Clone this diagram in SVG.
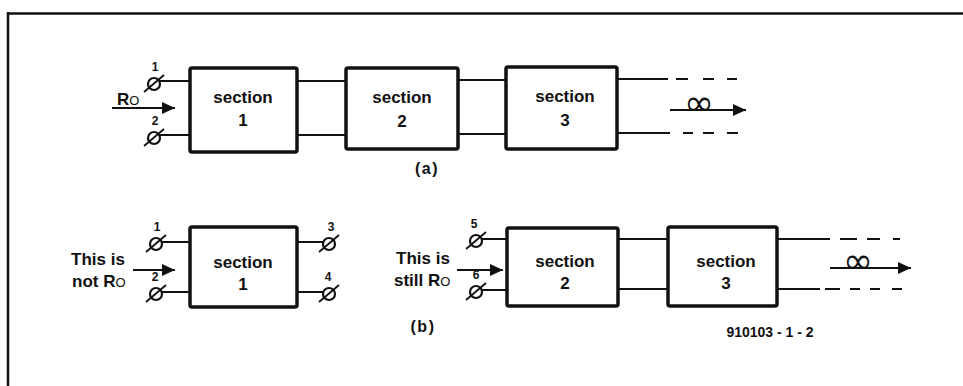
<svg xmlns="http://www.w3.org/2000/svg" width="963" height="386" viewBox="0 0 963 386">
<style>
.box{fill:#fff;stroke:#111;stroke-width:3.5;}
.w{stroke:#111;stroke-width:2;fill:none;}
.t{font-family:"Liberation Sans",Arial,sans-serif;font-weight:bold;fill:#111;}
.sec{font-size:17px;text-anchor:middle;}
.lab{font-size:17px;text-anchor:middle;}
.num{font-size:12px;text-anchor:middle;}
.inf{font-family:"DejaVu Sans",sans-serif;font-size:36px;text-anchor:middle;fill:#111;}
</style>
<defs>
<marker id="ah" markerUnits="userSpaceOnUse" markerWidth="13" markerHeight="12" refX="13" refY="6" orient="auto">
<path d="M0,0 L13,6 L0,12 z" fill="#111"/>
</marker>
<g id="term">
<circle cx="0" cy="0" r="6" fill="#fff" stroke="#111" stroke-width="2.2"/>
<line x1="-10" y1="8" x2="10" y2="-9" stroke="#111" stroke-width="1.8"/>
</g>
</defs>
<rect width="963" height="386" fill="#fff"/>
<g id="frame">
<line x1="8" y1="13.5" x2="963" y2="13.5" stroke="#111" stroke-width="2.5"/>
<line x1="8" y1="12" x2="8" y2="386" stroke="#111" stroke-width="2.5"/>
</g>
<g id="connectors">
<!-- (a) -->
<line class="w" x1="159" y1="81" x2="190" y2="81"/>
<line class="w" x1="159" y1="135" x2="190" y2="135"/>
<line class="w" x1="297" y1="81" x2="346" y2="81"/>
<line class="w" x1="297" y1="135" x2="346" y2="135"/>
<line class="w" x1="458" y1="80" x2="506" y2="80"/>
<line class="w" x1="458" y1="134" x2="506" y2="134"/>
<line class="w" x1="617" y1="79" x2="668" y2="79"/>
<line class="w" x1="676" y1="79" x2="688" y2="79"/>
<line class="w" x1="703" y1="79" x2="714" y2="79"/>
<line class="w" x1="727" y1="79" x2="737" y2="79"/>
<line class="w" x1="617" y1="133" x2="670" y2="133"/>
<line class="w" x1="683" y1="133" x2="693" y2="133"/>
<line class="w" x1="703" y1="133" x2="714" y2="133"/>
<line class="w" x1="727" y1="133" x2="738" y2="133"/>
<line class="w" x1="112" y1="108" x2="175" y2="108" marker-end="url(#ah)"/>
<line class="w" x1="670" y1="110" x2="746" y2="110" marker-end="url(#ah)"/>
<!-- (b) -->
<line class="w" x1="161" y1="242" x2="190" y2="242"/>
<line class="w" x1="161" y1="292" x2="190" y2="292"/>
<line class="w" x1="297" y1="242" x2="324" y2="242"/>
<line class="w" x1="297" y1="292" x2="324" y2="292"/>
<line class="w" x1="481" y1="239" x2="507" y2="239"/>
<line class="w" x1="481" y1="290" x2="507" y2="290"/>
<line class="w" x1="618" y1="239" x2="668" y2="239"/>
<line class="w" x1="618" y1="289" x2="668" y2="289"/>
<line class="w" x1="777" y1="239" x2="830" y2="239"/>
<line class="w" x1="840" y1="239" x2="857" y2="239"/>
<line class="w" x1="867" y1="239" x2="880" y2="239"/>
<line class="w" x1="893" y1="239" x2="900" y2="239"/>
<line class="w" x1="777" y1="289" x2="820" y2="289"/>
<line class="w" x1="825" y1="289" x2="840" y2="289"/>
<line class="w" x1="850" y1="289" x2="860" y2="289"/>
<line class="w" x1="870" y1="289" x2="880" y2="289"/>
<line class="w" x1="892" y1="289" x2="902" y2="289"/>
<line class="w" x1="133" y1="270" x2="175" y2="270" marker-end="url(#ah)"/>
<line class="w" x1="457" y1="270" x2="503" y2="270" marker-end="url(#ah)"/>
<line class="w" x1="830" y1="268" x2="911" y2="268" marker-end="url(#ah)"/>
</g>
<!-- (a) panel -->
<g id="a-t1"><use href="#term" x="154" y="84"/><text class="t num" x="155" y="71">1</text></g>
<g id="a-t2"><use href="#term" x="154" y="138"/><text class="t num" x="155" y="125">2</text></g>
<g id="a-ro"><text class="t" x="117" y="105" font-size="17">R<tspan font-size="13" font-weight="normal">O</tspan></text></g>
<g id="a-sec1"><rect class="box" x="190" y="68" width="107" height="84" rx="2"/><text class="t sec" x="243" y="103">section</text><text class="t sec" x="243" y="126">1</text></g>
<g id="a-sec2"><rect class="box" x="346" y="68" width="112" height="81" rx="2"/><text class="t sec" x="402" y="103">section</text><text class="t sec" x="402" y="127">2</text></g>
<g id="a-sec3"><rect class="box" x="506" y="67" width="111" height="82" rx="2"/><text class="t sec" x="565" y="102">section</text><text class="t sec" x="565" y="126">3</text></g>
<g id="a-inf"><text class="inf" x="699" y="115">∞</text></g>
<g id="a-label"><text class="t" x="427" y="174" font-size="16" font-weight="normal" text-anchor="middle" letter-spacing="1.5">(a)</text></g>
<!-- (b) panel -->
<g id="b-t1"><use href="#term" x="156" y="244"/><text class="t num" x="157" y="231">1</text></g>
<g id="b-t2"><use href="#term" x="156" y="294"/><text class="t num" x="155" y="281">2</text></g>
<g id="b-t3"><use href="#term" x="329" y="244"/><text class="t num" x="331" y="231">3</text></g>
<g id="b-t4"><use href="#term" x="329" y="294"/><text class="t num" x="328" y="281">4</text></g>
<g id="b-t5"><use href="#term" x="476" y="241"/><text class="t num" x="474" y="228">5</text></g>
<g id="b-t6"><use href="#term" x="476" y="292"/><text class="t num" x="476" y="279">6</text></g>
<g id="b-notro"><text class="t lab" x="98" y="265">This is</text><text class="t" x="72" y="287" font-size="17">not R<tspan font-size="13" font-weight="normal">O</tspan></text></g>
<g id="b-stillro"><text class="t lab" x="423" y="264">This is</text><text class="t" x="394" y="286" font-size="17">still R<tspan font-size="13" font-weight="normal">O</tspan></text></g>
<g id="b-sec1"><rect class="box" x="190" y="227" width="107" height="80" rx="2"/><text class="t sec" x="243" y="268">section</text><text class="t sec" x="243" y="290">1</text></g>
<g id="b-sec2"><rect class="box" x="507" y="228" width="111" height="78" rx="2"/><text class="t sec" x="565" y="267">section</text><text class="t sec" x="565" y="289">2</text></g>
<g id="b-sec3"><rect class="box" x="668" y="227" width="109" height="79" rx="2"/><text class="t sec" x="726" y="267">section</text><text class="t sec" x="726" y="289">3</text></g>
<g id="b-inf"><text class="inf" x="858" y="273">∞</text></g>
<g id="b-label"><text class="t" x="423" y="332" font-size="16" font-weight="normal" text-anchor="middle" letter-spacing="1.5">(b)</text></g>
<g id="fig-id"><text class="t" x="770" y="337" font-size="14" text-anchor="middle">910103 - 1 - 2</text></g>
</svg>
